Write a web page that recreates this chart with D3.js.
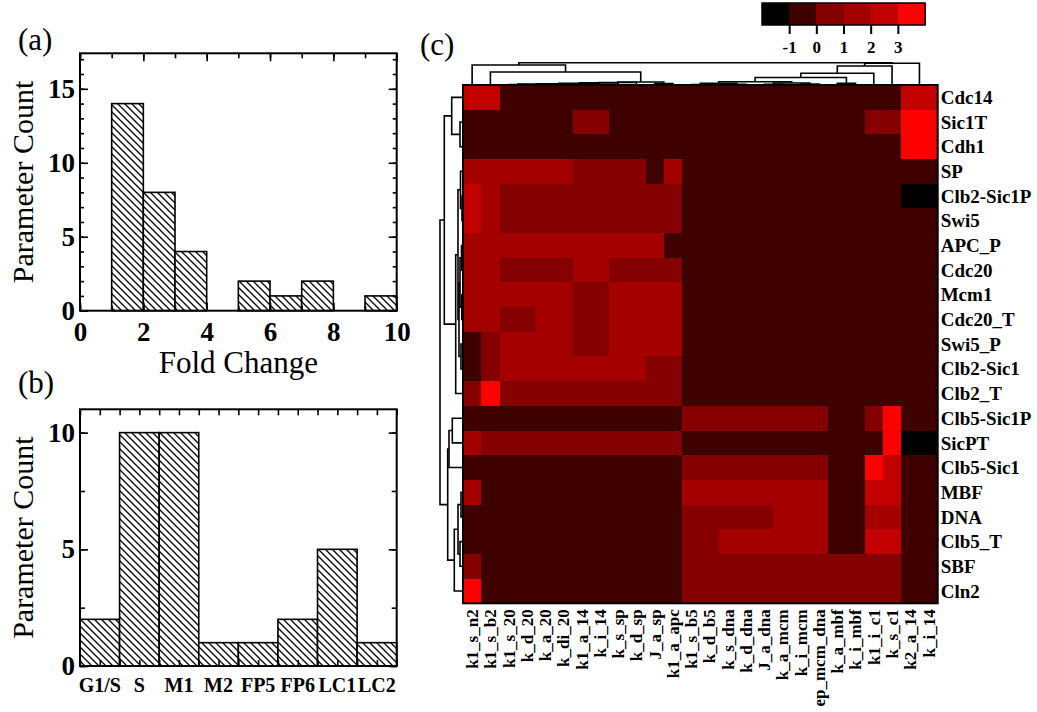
<!DOCTYPE html>
<html><head><meta charset="utf-8">
<script src="https://cdn.jsdelivr.net/npm/d3@7"></script>
<style>
body{margin:0;background:#fff}
svg{display:block}
text{font-family:"Liberation Serif","Times New Roman",serif;fill:#000}
</style>
</head><body>
<svg id="chart" width="1037" height="712"></svg>
<script>
// ---------------- DATA ----------------
// (a) histogram of fold changes
const foldBinEdges = [1,2,3,4,5,6,7,8,9,10];
const foldCounts   = [14,8,4,0,2,1,2,0,1];
const foldTicks    = [0,2,4,6,8,10];
const countTicksA  = [0,5,10,15];

// (b) parameter count per phase
const phaseCats   = ["G1/S","S","M1","M2","FP5","FP6","LC1","LC2"];
const phaseCounts = [2,10,10,1,1,2,5,1];
const countTicksB = [0,5,10];

// (c) heat map
const colLabels = ["k1_s_n2","k1_s_b2","k1_s_20","k_d_20","k_a_20","k_di_20","k1_a_14","k_i_14",
  "k_s_sp","k_d_sp","J_a_sp","k1_a_apc","k1_s_b5","k_d_b5","k_s_dna","k_d_dna","J_a_dna",
  "k_a_mcm","k_i_mcm","ep_mcm_dna","k_a_mbf","k_i_mbf","k1_i_c1","k_s_c1","k2_a_14","k_i_14 "];
const rowLabels = ["Cdc14","Sic1T","Cdh1","SP","Clb2-Sic1P","Swi5","APC_P","Cdc20","Mcm1","Cdc20_T",
  "Swi5_P","Clb2-Sic1","Clb2_T","Clb5-Sic1P","SicPT","Clb5-Sic1","MBF","DNA","Clb5_T","SBF","Cln2"];
const heatValues = [
 [2.5,2.5,-.5,-.5,-.5,-.5,-.5,-.5,-.5,-.5,-.5,-.5, -.5,-.5,-.5,-.5,-.5,-.5,-.5,-.5,-.5,-.5,-.5,-.5,2.5,2.5],
 [-.5,-.5,-.5,-.5,-.5,-.5,.5,.5,-.5,-.5,-.5,-.5, -.5,-.5,-.5,-.5,-.5,-.5,-.5,-.5,-.5,-.5,.5,.5,3.5,3.5],
 [-.5,-.5,-.5,-.5,-.5,-.5,-.5,-.5,-.5,-.5,-.5,-.5, -.5,-.5,-.5,-.5,-.5,-.5,-.5,-.5,-.5,-.5,-.5,-.5,3.5,3.5],
 [1.5,1.5,1.5,1.5,1.5,1.5,.5,.5,.5,.5,-.5,1.5, -.5,-.5,-.5,-.5,-.5,-.5,-.5,-.5,-.5,-.5,-.5,-.5,-.5,-.5],
 [2.5,1.5,.5,.5,.5,.5,.5,.5,.5,.5,.5,.5, -.5,-.5,-.5,-.5,-.5,-.5,-.5,-.5,-.5,-.5,-.5,-.5,-1.5,-1.5],
 [2.5,1.5,.5,.5,.5,.5,.5,.5,.5,.5,.5,.5, -.5,-.5,-.5,-.5,-.5,-.5,-.5,-.5,-.5,-.5,-.5,-.5,-.5,-.5],
 [1.5,1.5,1.5,1.5,1.5,1.5,1.5,1.5,1.5,1.5,1.5,-.5, -.5,-.5,-.5,-.5,-.5,-.5,-.5,-.5,-.5,-.5,-.5,-.5,-.5,-.5],
 [1.5,1.5,.5,.5,.5,.5,1.5,1.5,.5,.5,.5,.5, -.5,-.5,-.5,-.5,-.5,-.5,-.5,-.5,-.5,-.5,-.5,-.5,-.5,-.5],
 [1.5,1.5,1.5,1.5,1.5,1.5,.5,.5,1.5,1.5,1.5,1.5, -.5,-.5,-.5,-.5,-.5,-.5,-.5,-.5,-.5,-.5,-.5,-.5,-.5,-.5],
 [1.5,1.5,.5,.5,1.5,1.5,.5,.5,1.5,1.5,1.5,1.5, -.5,-.5,-.5,-.5,-.5,-.5,-.5,-.5,-.5,-.5,-.5,-.5,-.5,-.5],
 [-.5,.5,1.5,1.5,1.5,1.5,.5,.5,1.5,1.5,1.5,1.5, -.5,-.5,-.5,-.5,-.5,-.5,-.5,-.5,-.5,-.5,-.5,-.5,-.5,-.5],
 [-.5,.5,1.5,1.5,1.5,1.5,1.5,1.5,1.5,1.5,.5,.5, -.5,-.5,-.5,-.5,-.5,-.5,-.5,-.5,-.5,-.5,-.5,-.5,-.5,-.5],
 [.5,3.5,.5,.5,.5,.5,.5,.5,.5,.5,.5,.5, -.5,-.5,-.5,-.5,-.5,-.5,-.5,-.5,-.5,-.5,-.5,-.5,-.5,-.5],
 [-.5,-.5,-.5,-.5,-.5,-.5,-.5,-.5,-.5,-.5,-.5,-.5, .5,.5,.5,.5,.5,.5,.5,.5,-.5,-.5,.5,3.5,-.5,-.5],
 [1.5,.5,.5,.5,.5,.5,.5,.5,.5,.5,.5,.5, -.5,-.5,-.5,-.5,-.5,-.5,-.5,-.5,-.5,-.5,-.5,3.5,-1.5,-1.5],
 [-.5,-.5,-.5,-.5,-.5,-.5,-.5,-.5,-.5,-.5,-.5,-.5, .5,.5,.5,.5,.5,.5,.5,.5,-.5,-.5,3.5,2.5,-.5,-.5],
 [1.5,-.5,-.5,-.5,-.5,-.5,-.5,-.5,-.5,-.5,-.5,-.5, 1.5,1.5,1.5,1.5,1.5,1.5,1.5,1.5,-.5,-.5,2.5,2.5,-.5,-.5],
 [-.5,-.5,-.5,-.5,-.5,-.5,-.5,-.5,-.5,-.5,-.5,-.5, .5,.5,.5,.5,.5,1.5,1.5,1.5,-.5,-.5,1.5,1.5,-.5,-.5],
 [-.5,-.5,-.5,-.5,-.5,-.5,-.5,-.5,-.5,-.5,-.5,-.5, .5,.5,1.5,1.5,1.5,1.5,1.5,1.5,-.5,-.5,2.5,2.5,-.5,-.5],
 [.5,-.5,-.5,-.5,-.5,-.5,-.5,-.5,-.5,-.5,-.5,-.5, .5,.5,.5,.5,.5,.5,.5,.5,.5,.5,.5,.5,-.5,-.5],
 [3.5,-.5,-.5,-.5,-.5,-.5,-.5,-.5,-.5,-.5,-.5,-.5, .5,.5,.5,.5,.5,.5,.5,.5,.5,.5,.5,.5,-.5,-.5]
];
const colorThresholds = [-1,0,1,2,3];
const colorRange = ["#000000","#3f0000","#850000","#a50000","#c30000","#ff0000"];
const colorTicks = [-1,0,1,2,3];
const colorDomain = [-2,4];

// hierarchical clustering linkages: [childA, childB, height]
const colLinkage = [
 [2,3,0.4],[4,5,0.4],[26,27,0.9],[28,6,1.3],[29,7,1.7],[30,8,2.1],[31,9,2.5],[10,11,1.4],
 [32,33,3.0],[1,34,13],[0,35,20],
 [12,13,0.5],[14,15,0.6],[37,38,1.6],[16,17,0.6],[18,19,0.9],[40,41,2.0],[39,42,3.3],
 [20,21,1.7],[43,44,7.5],[45,22,11.7],[46,23,19],[24,25,0.3],[47,48,21.7],[36,49,22.3]
];
const rowLinkage = [
 [1,2,3],[0,21,11.3],[4,5,1],[3,23,2.5],[6,7,1.5],[8,9,1.2],[25,26,3],[10,11,2],
 [27,28,4],[24,29,5],[30,12,7.3],[22,31,18.7],
 [13,14,10.7],[33,15,14],[16,17,2],[18,19,3],[35,36,5],[37,20,8.7],[34,38,15.3],[32,39,23]
];

// ---------------- DRAW ----------------
const svg = d3.select("#chart");
const defs = svg.append("defs");
const pat = defs.append("pattern").attr("id","hatch").attr("patternUnits","userSpaceOnUse")
  .attr("width",7).attr("height",7);
pat.append("rect").attr("width",7).attr("height",7).attr("fill","#fff");
pat.append("path").attr("d","M-1,-1L8,8M-1,6L1,8M6,-1L8,1").attr("stroke","#000").attr("stroke-width",1.3);

function styleAxis(g, size){
  g.select(".domain").remove();
  g.selectAll("line").attr("stroke","#000").attr("stroke-width",1.6);
  g.selectAll("text").attr("font-family","Liberation Serif, serif").attr("font-weight","bold")
    .attr("font-size",size).attr("fill","#000");
}
const plain = d => String(d);

// ===== Panel (a) =====
const A = {l:80,r:396.7,t:53.3,b:310.7};
const xA = d3.scaleLinear().domain([0,10]).range([A.l,A.r]);
const yA = d3.scaleLinear().domain([0,17.4]).range([A.b,A.t]);
const gA = svg.append("g");
gA.selectAll("rect.bar").data(foldCounts.map((c,i)=>({x0:foldBinEdges[i],x1:foldBinEdges[i+1],c})).filter(d=>d.c>0))
 .join("rect").attr("class","bar")
 .attr("x",d=>xA(d.x0)).attr("width",d=>xA(d.x1)-xA(d.x0))
 .attr("y",d=>yA(d.c)).attr("height",d=>yA(0)-yA(d.c))
 .attr("fill","url(#hatch)").attr("stroke","#000").attr("stroke-width",1.6);
const minorXA = d3.range(0,11,1), minorYA = d3.range(0,18,1);
gA.append("g").attr("transform",`translate(0,${A.b})`).call(d3.axisBottom(xA).tickValues(minorXA).tickSize(-5).tickFormat("")).call(styleAxis,27);
gA.append("g").attr("transform",`translate(0,${A.t})`).call(d3.axisTop(xA).tickValues(minorXA).tickSize(-5).tickFormat("")).call(styleAxis,27);
gA.append("g").attr("transform",`translate(0,${A.b})`).call(d3.axisBottom(xA).tickValues(foldTicks).tickSize(-8).tickPadding(11).tickFormat(plain)).call(styleAxis,27);
gA.append("g").attr("transform",`translate(0,${A.t})`).call(d3.axisTop(xA).tickValues(foldTicks).tickSize(-8).tickFormat("")).call(styleAxis,27);
gA.append("g").attr("transform",`translate(${A.l},0)`).call(d3.axisLeft(yA).tickValues(minorYA).tickSize(-4).tickFormat("")).call(styleAxis,27);
gA.append("g").attr("transform",`translate(${A.r},0)`).call(d3.axisRight(yA).tickValues(minorYA).tickSize(-4).tickFormat("")).call(styleAxis,27);
gA.append("g").attr("transform",`translate(${A.l},0)`).call(d3.axisLeft(yA).tickValues(countTicksA).tickSize(-8).tickPadding(5).tickFormat(plain)).call(styleAxis,27);
gA.append("g").attr("transform",`translate(${A.r},0)`).call(d3.axisRight(yA).tickValues(countTicksA).tickSize(-8).tickFormat("")).call(styleAxis,27);
gA.append("rect").attr("x",A.l).attr("y",A.t).attr("width",A.r-A.l).attr("height",A.b-A.t)
 .attr("fill","none").attr("stroke","#000").attr("stroke-width",2);
gA.append("text").attr("x",(A.l+A.r)/2).attr("y",373).attr("text-anchor","middle").attr("font-size",31).text("Fold Change");
gA.append("text").attr("transform",`translate(33,${(A.t+A.b)/2}) rotate(-90)`).attr("text-anchor","middle").attr("font-size",30).text("Parameter Count");
gA.append("text").attr("x",18).attr("y",50).attr("font-size",31).text("(a)");

// ===== Panel (b) =====
const B = {l:80,r:396.7,t:409.3,b:666};
const xB = d3.scaleBand().domain(phaseCats).range([B.l,B.r]).padding(0);
const xBlin = d3.scaleLinear().domain([0,phaseCats.length]).range([B.l,B.r]);
const yB = d3.scaleLinear().domain([0,11]).range([B.b,B.t]);
const gB = svg.append("g");
gB.selectAll("rect.bar").data(phaseCats.map((c,i)=>({c,v:phaseCounts[i]})))
 .join("rect").attr("class","bar")
 .attr("x",d=>xB(d.c)).attr("width",xB.bandwidth())
 .attr("y",d=>yB(d.v)).attr("height",d=>yB(0)-yB(d.v))
 .attr("fill","url(#hatch)").attr("stroke","#000").attr("stroke-width",1.6);
const halfTicks = d3.range(0,phaseCats.length+0.01,0.5);
gB.append("g").attr("transform",`translate(0,${B.b})`).call(d3.axisBottom(xBlin).tickValues(halfTicks).tickSize(-6).tickFormat("")).call(styleAxis,20);
gB.append("g").attr("transform",`translate(0,${B.t})`).call(d3.axisTop(xBlin).tickValues(halfTicks).tickSize(-6).tickFormat("")).call(styleAxis,20);
gB.append("g").attr("transform",`translate(0,${B.b})`).call(d3.axisBottom(xB).tickSize(0).tickPadding(12)).call(styleAxis,20);
const minorYB = [0,2.5,5,7.5,10];
gB.append("g").attr("transform",`translate(${B.l},0)`).call(d3.axisLeft(yB).tickValues(minorYB).tickSize(-5).tickFormat("")).call(styleAxis,27);
gB.append("g").attr("transform",`translate(${B.r},0)`).call(d3.axisRight(yB).tickValues(minorYB).tickSize(-5).tickFormat("")).call(styleAxis,27);
gB.append("g").attr("transform",`translate(${B.l},0)`).call(d3.axisLeft(yB).tickValues(countTicksB).tickSize(-8).tickPadding(5).tickFormat(plain)).call(styleAxis,27);
gB.append("g").attr("transform",`translate(${B.r},0)`).call(d3.axisRight(yB).tickValues(countTicksB).tickSize(-8).tickFormat("")).call(styleAxis,27);
gB.append("rect").attr("x",B.l).attr("y",B.t).attr("width",B.r-B.l).attr("height",B.b-B.t)
 .attr("fill","none").attr("stroke","#000").attr("stroke-width",2);
gB.append("text").attr("transform",`translate(33,${(B.t+B.b)/2}) rotate(-90)`).attr("text-anchor","middle").attr("font-size",30).text("Parameter Count");
gB.append("text").attr("x",18).attr("y",393).attr("font-size",31).text("(b)");

// ===== Panel (c) heat map =====
const H = {l:463,r:937.7,t:85,b:603.3};
const xH = d3.scaleBand().domain(colLabels).range([H.l,H.r]);
const yH = d3.scaleBand().domain(rowLabels).range([H.t,H.b]);
const color = d3.scaleThreshold().domain(colorThresholds).range(colorRange);
const gC = svg.append("g");
const cells = [];
heatValues.forEach((row,i)=>row.forEach((v,j)=>cells.push({r:rowLabels[i],c:colLabels[j],v})));
gC.append("g").attr("shape-rendering","crispEdges").selectAll("rect").data(cells).join("rect")
 .attr("x",d=>xH(d.c)).attr("y",d=>yH(d.r))
 .attr("width",xH.bandwidth()+0.6).attr("height",yH.bandwidth()+0.6)
 .attr("fill",d=>color(d.v));
gC.append("rect").attr("x",H.l).attr("y",H.t).attr("width",H.r-H.l).attr("height",H.b-H.t)
 .attr("fill","none").attr("stroke","#000").attr("stroke-width",2);
gC.selectAll("text.row").data(rowLabels).join("text").attr("class","row")
 .attr("x",H.r+3).attr("y",d=>yH(d)+yH.bandwidth()/2).attr("dy","0.35em")
 .attr("font-size",19).attr("font-weight","bold").text(d=>d);
gC.selectAll("text.col").data(colLabels).join("text").attr("class","col")
 .attr("transform",d=>`translate(${xH(d)+xH.bandwidth()/2},${H.b+6}) rotate(-90)`)
 .attr("dy","0.35em").attr("text-anchor","end")
 .attr("font-size",17).attr("font-weight","bold").text(d=>d.trim());
gC.append("text").attr("x",420).attr("y",55).attr("font-size",31).text("(c)");

// dendrograms
function dendroSegments(linkage, leafPos){
  const pos = leafPos.slice(), hgt = leafPos.map(()=>0), segs = [];
  linkage.forEach(([a,b,h])=>{
    segs.push({p1:pos[a],h1:hgt[a],p2:pos[b],h2:hgt[b],h});
    pos.push((pos[a]+pos[b])/2); hgt.push(h);
  });
  return segs;
}
const distTop = d3.scaleLinear().domain([0,23]).range([H.t,H.t-23]);
const distLeft = d3.scaleLinear().domain([0,23]).range([H.l,H.l-23]);
const colSegs = dendroSegments(colLinkage, colLabels.map(c=>xH(c)+xH.bandwidth()/2));
const rowSegs = dendroSegments(rowLinkage, rowLabels.map(r=>yH(r)+yH.bandwidth()/2));
gC.append("g").selectAll("path").data(colSegs).join("path")
 .attr("d",s=>`M${s.p1},${distTop(s.h1)}V${distTop(s.h)}H${s.p2}V${distTop(s.h2)}`)
 .attr("fill","none").attr("stroke","#000").attr("stroke-width",1.6);
gC.append("g").selectAll("path").data(rowSegs).join("path")
 .attr("d",s=>`M${distLeft(s.h1)},${s.p1}H${distLeft(s.h)}V${s.p2}H${distLeft(s.h2)}`)
 .attr("fill","none").attr("stroke","#000").attr("stroke-width",1.6);

// colour bar
const cb = d3.scaleLinear().domain(colorDomain).range([762,925]);
const cbEdges = [colorDomain[0],...colorThresholds,colorDomain[1]];
const gK = svg.append("g");
gK.append("g").attr("shape-rendering","crispEdges").selectAll("rect").data(colorRange).join("rect")
 .attr("x",(d,i)=>cb(cbEdges[i])).attr("width",(d,i)=>cb(cbEdges[i+1])-cb(cbEdges[i])+0.5)
 .attr("y",3).attr("height",22).attr("fill",d=>d);
gK.append("rect").attr("x",cb(colorDomain[0])).attr("y",3).attr("width",cb(colorDomain[1])-cb(colorDomain[0]))
 .attr("height",22).attr("fill","none").attr("stroke","#000").attr("stroke-width",1.5);
gK.append("g").attr("transform","translate(0,25)")
 .call(d3.axisBottom(cb).tickValues(colorTicks).tickSize(9).tickPadding(7).tickFormat(plain))
 .call(styleAxis,17);
gK.selectAll("line").attr("stroke-width",2);
</script>
</body></html>
